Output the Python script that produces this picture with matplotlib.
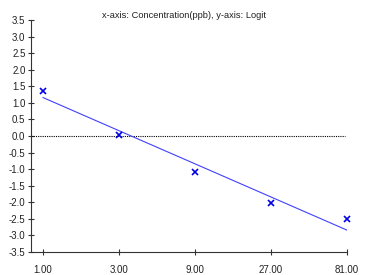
import matplotlib
matplotlib.use('Agg')
import matplotlib.pyplot as plt
from matplotlib.ticker import FixedLocator, NullLocator

plt.rcParams['font.family'] = ['Liberation Sans', 'DejaVu Sans']

# 数据
conc = [1.0, 3.0, 9.0, 27.0, 81.0]
logit = [1.36, 0.04, -1.10, -2.03, -2.50]
fit_x = [1.0, 81.0]
fit_y = [1.16, -2.84]
tick_labels = ['1.00', '3.00', '9.00', '27.00', '81.00']
y_ticks = [-3.5, -3.0, -2.5, -2.0, -1.5, -1.0, -0.5, 0.0, 0.5, 1.0, 1.5, 2.0, 2.5, 3.0, 3.5]

fig = plt.figure(figsize=(3.68, 2.75), dpi=100)
ax = fig.add_axes([31 / 368, 1 - 252 / 275, (347 - 31) / 368, (252 - 20) / 275])

ax.set_xscale('log', base=3)
ax.set_xlim(3 ** -0.158, 81)
ax.set_ylim(-3.5, 3.5)

# 零线
ax.axhline(0, xmax=0.994, color='black', linestyle=(0, (1, 1)), linewidth=0.8)
# 拟合线
ax.plot(fit_x, fit_y, color='#4040ff', linewidth=0.8)
# 数据点
ax.plot(conc, logit, linestyle='none', marker='x', color='#0000e0',
        markersize=4, markeredgewidth=1.2, clip_on=False)

ax.xaxis.set_major_locator(FixedLocator(conc))
ax.xaxis.set_minor_locator(NullLocator())
ax.set_xticklabels(tick_labels)
ax.set_yticks(y_ticks)
ax.set_yticklabels(['%.1f' % v for v in y_ticks])

ax.tick_params(axis='both', direction='inout', length=4, width=0.8,
               labelsize=7, colors='#333333', labelcolor='#222222')
ax.tick_params(axis='x', pad=7.5)
ax.tick_params(axis='y', pad=2)

for s in ['top', 'right']:
    ax.spines[s].set_visible(False)
for s in ['left', 'bottom']:
    ax.spines[s].set_color('#333333')
    ax.spines[s].set_linewidth(0.8)

fig.text(184 / 368, 1 - 15 / 275, 'x-axis: Concentration(ppb), y-axis: Logit',
         ha='center', va='center', fontsize=6.7, color='#222222')

fig.savefig('out.png', dpi=100)
